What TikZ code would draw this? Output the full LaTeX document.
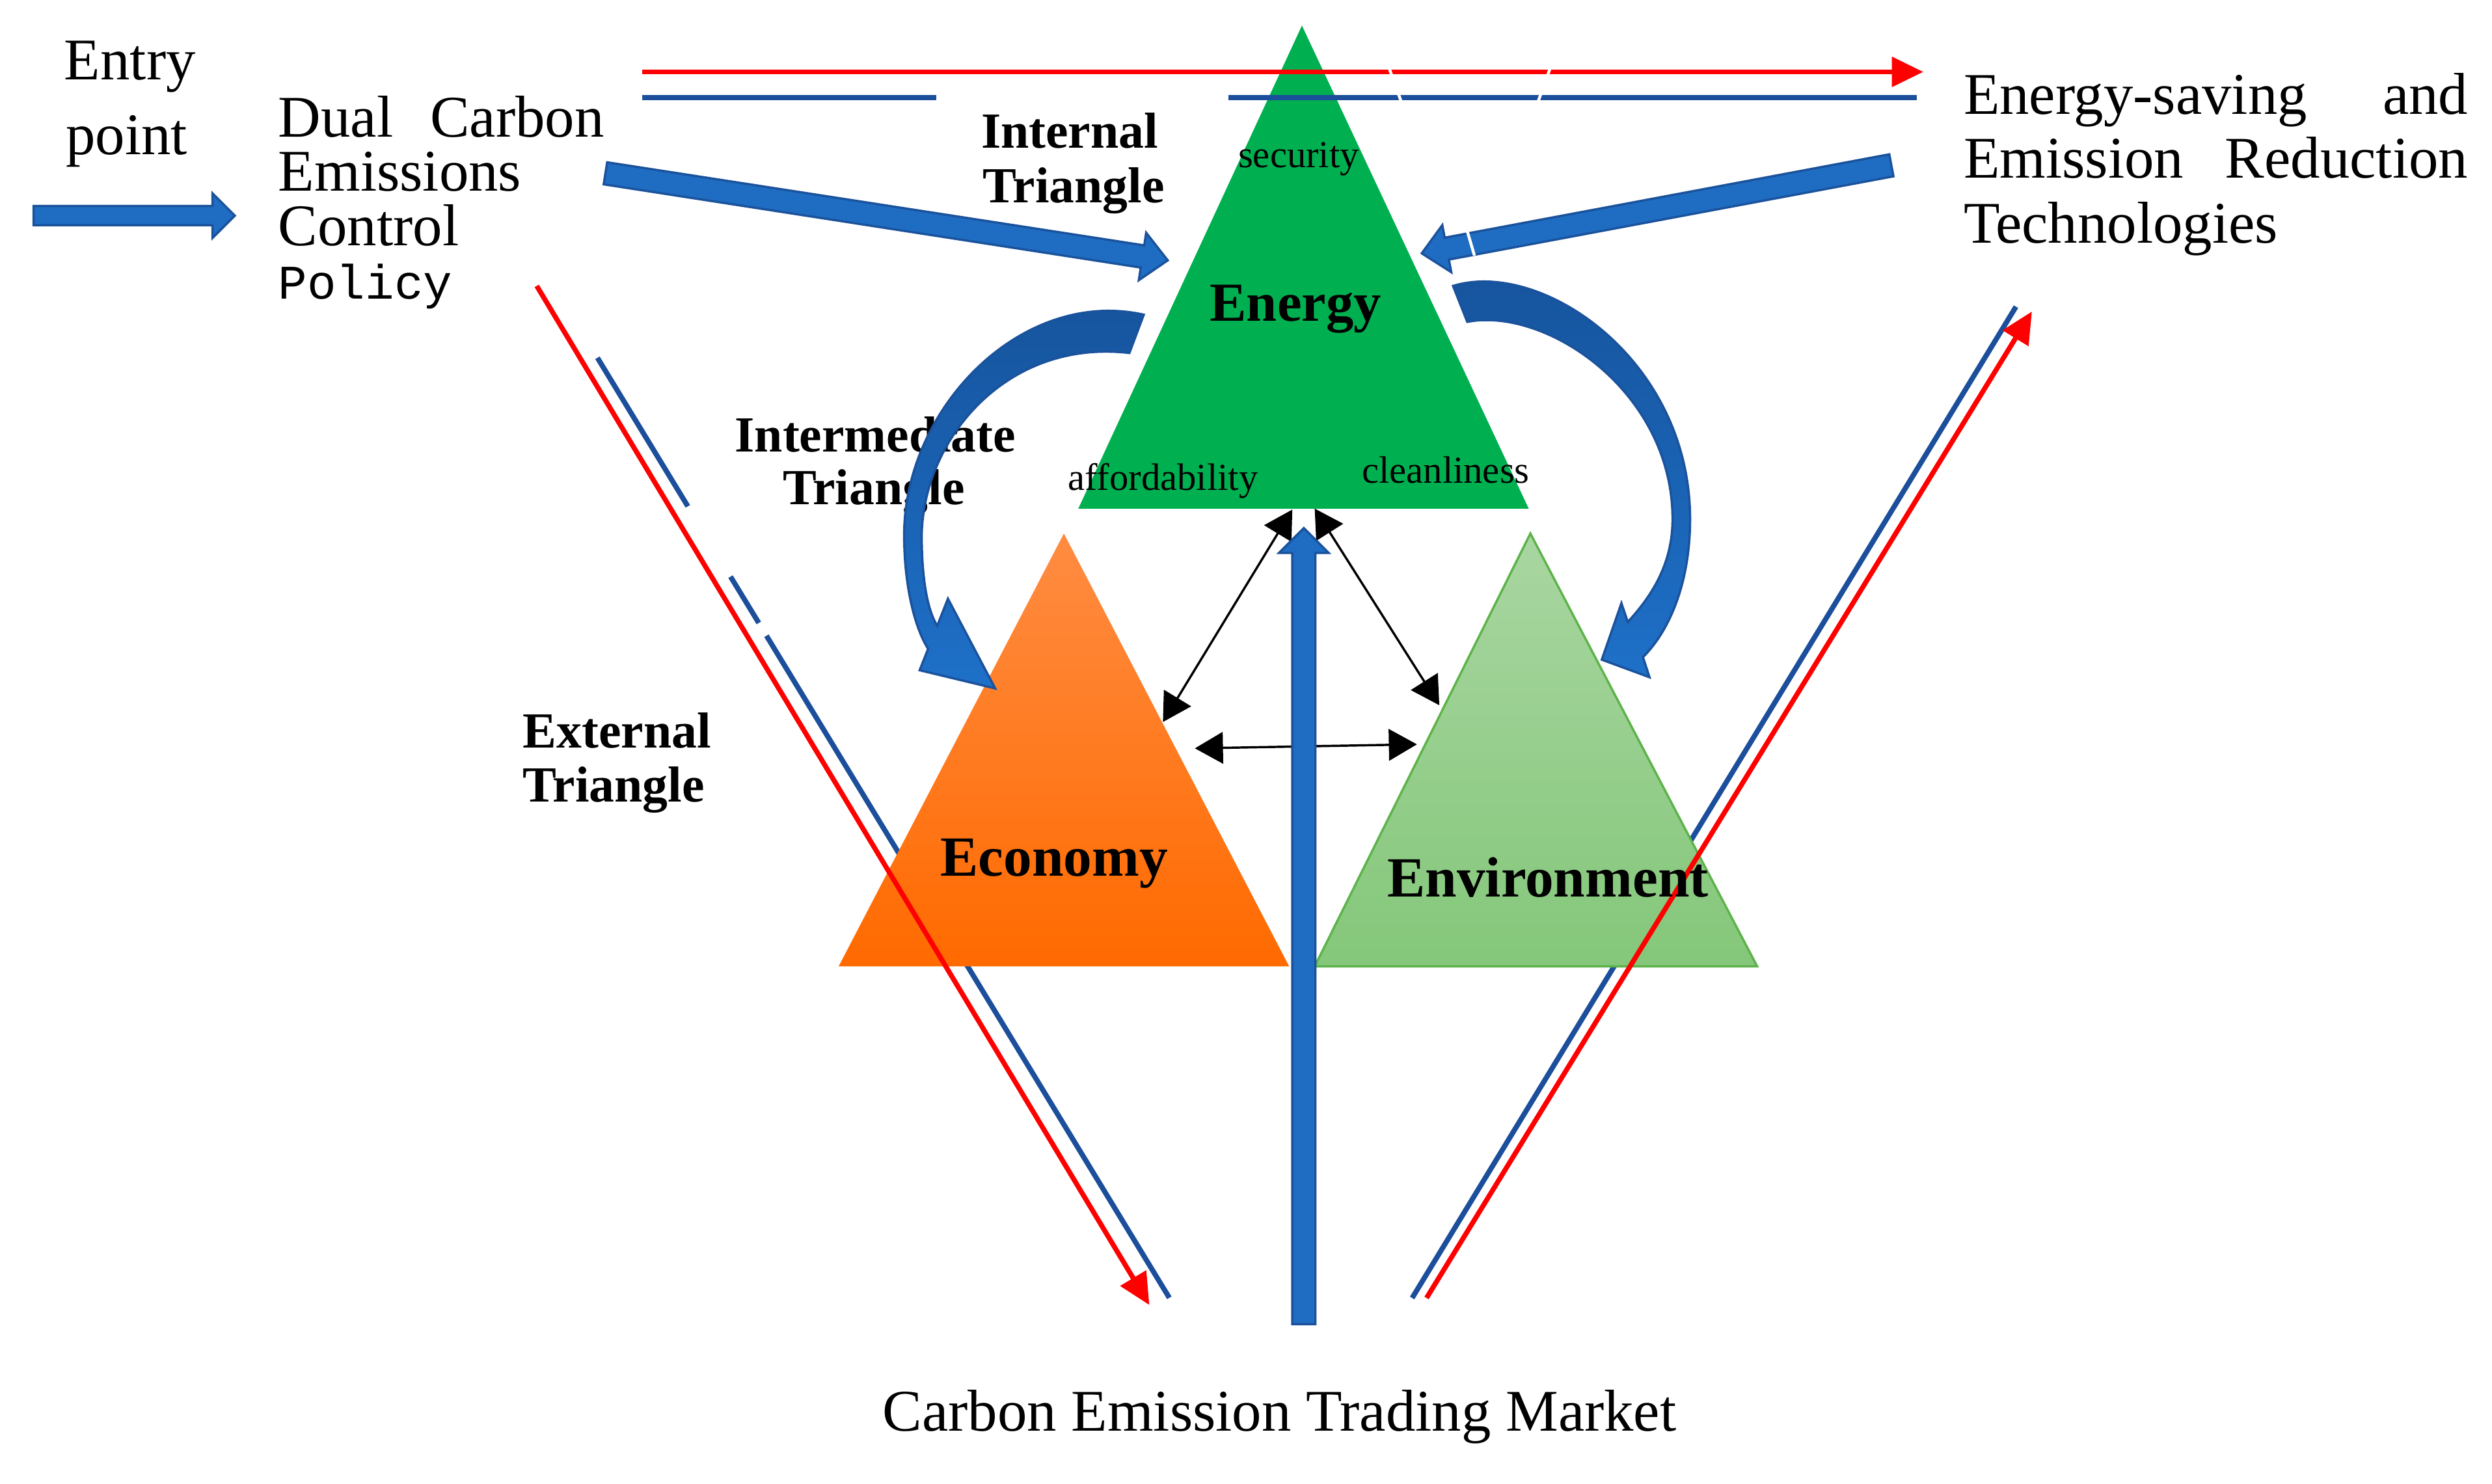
\documentclass[tikz,border=0pt]{standalone}
\usepackage{fontspec}
\setmainfont{Liberation Serif}
\newfontfamily\policyfont{Liberation Mono}
\usetikzlibrary{arrows.meta}
\definecolor{engreen}{HTML}{00B050}
\definecolor{ecotop}{HTML}{FF8C42}
\definecolor{ecobot}{HTML}{FF6A00}
\definecolor{envtop}{HTML}{A9D6A1}
\definecolor{envbot}{HTML}{84C77A}
\definecolor{envline}{HTML}{5DB34B}
\definecolor{lineblue}{HTML}{1C4F9B}
\definecolor{arrowblue}{HTML}{1F6DC2}
\definecolor{arrowedge}{HTML}{1A529C}
\definecolor{curvetop}{HTML}{16539C}
\definecolor{curvebot}{HTML}{1E70C8}
\begin{document}
\begin{tikzpicture}[x=0.025cm,y=-0.025cm,
  txt/.style={inner sep=0pt, anchor=base west, font=\fontsize{26.3}{30}\selectfont},
  bold/.style={inner sep=0pt, anchor=base west, font=\fontsize{22.5}{26}\selectfont\bfseries},
  big/.style={inner sep=0pt, anchor=base, font=\fontsize{25.3}{29}\selectfont\bfseries},
  small/.style={inner sep=0pt, anchor=base, font=\fontsize{17}{20}\selectfont},
  redline/.style={draw=red, line width=2.2pt, -{Triangle[length=14pt,width=13pt]}},
  blueline/.style={draw=lineblue, line width=2.3pt},
  biarrow/.style={draw=black, line width=1pt, {Triangle[length=12.5pt,width=14pt]}-{Triangle[length=12.5pt,width=14pt]}},
  blockarrow/.style={fill=arrowblue, draw=arrowedge, line width=1pt, line join=miter},
  curvearrow/.style={top color=curvetop, bottom color=curvebot, draw=arrowedge, line width=1pt},
  cut/.style={draw=white, line width=1.3pt}
]
\useasboundingbox (0,0) rectangle (1560,929);

% ---- coordinates
\coordinate (enA) at (815,16);
\coordinate (enL) at (675,318.5);
\coordinate (enR) at (957,318.5);
\coordinate (ecA) at (666,334);
\coordinate (ecL) at (525,605);
\coordinate (ecR) at (807,605);
\coordinate (evA) at (958,334);
\coordinate (evL) at (823,605);
\coordinate (evR) at (1100,605);

% ---- blue diagonal lines (behind triangles)
\coordinate (lb1) at (374,224);
\coordinate (lb2) at (430.6,317);
\coordinate (lb3) at (457.3,361);
\coordinate (lb4) at (475,390);
\coordinate (lb5) at (479.8,398);
\coordinate (lb6) at (732,812.5);
\draw[blueline] (lb1) -- (lb2);
\draw[blueline] (lb3) -- (lb4);
\draw[blueline] (lb5) -- (lb6);
\coordinate (rb1) at (884,812.6);
\coordinate (rb2) at (1262,192);
\draw[blueline] (rb1) -- (rb2);

% ---- triangles
\fill[engreen] (enA) -- (enL) -- (enR) -- cycle;
\shade[top color=ecotop, bottom color=ecobot] (ecA) -- (ecL) -- (ecR) -- cycle;
\shade[top color=envtop, bottom color=envbot] (evA) -- (evL) -- (evR) -- cycle;
\draw[envline, line width=1pt, line join=miter] (evA) -- (evL) -- (evR) -- cycle;

% ---- red diagonal lines
\coordinate (lr1) at (336,179);
\coordinate (lr2) at (719.5,817);
\draw[redline] (lr1) -- (lr2);
\coordinate (rr1) at (893,812.6);
\coordinate (rr2) at (1272,195);
\draw[redline] (rr1) -- (rr2);

% ---- top lines
\coordinate (tr1) at (402,45);
\coordinate (tr2) at (1204,45);
\draw[redline] (tr1) -- (tr2);
\coordinate (tb1) at (402,61);
\coordinate (tb2) at (586,61);
\coordinate (tb3) at (769,61);
\coordinate (tb4) at (1200,61);
\draw[blueline] (tb1) -- (tb2);
\draw[blueline] (tb3) -- (tb4);

% ---- black double arrows
\coordinate (bk1) at (809,319);
\coordinate (bk2) at (728,452);
\coordinate (bk3) at (823,318.4);
\coordinate (bk4) at (901,441.5);
\coordinate (bk5) at (748,468.5);
\coordinate (bk6) at (887,466);
\draw[biarrow] (bk1) -- (bk2);
\draw[biarrow] (bk3) -- (bk4);
\draw[biarrow] (bk5) -- (bk6);

% ---- block arrows
\path[blockarrow] (809,829) -- (809,346.2) -- (800.6,346.2) -- (816.2,330.6) -- (831.8,346.2) -- (823.4,346.2) -- (823.4,829) -- cycle;
\path[blockarrow] (21,129) -- (133,129) -- (133,121) -- (147,135) -- (133,149) -- (133,141) -- (21,141) -- cycle;
\path[blockarrow] (380.1,101.6) -- (716.3,153.6) -- (717.5,145.7) -- (731,163) -- (712.9,175.4) -- (714.1,167.5) -- (377.9,115.4) -- cycle;
\path[blockarrow] (1182.7,96.6) -- (904.4,148.8) -- (902.9,140.9) -- (890,158.6) -- (908.5,170.4) -- (907.0,162.5) -- (1185.3,110.4) -- cycle;

% ---- labels under curved arrows
\node[bold, anchor=base] (interm1) at (548,283) {Intermediate};
\node[bold, anchor=base] (interm2) at (547,316) {Triangle};

% ---- curved arrows
\path[curvearrow] (716,197) .. controls (640,180) and (566,255) .. (566,335)
  .. controls (566,365) and (572,392) .. (581,406.2) -- (575.7,419.6) -- (623,431) -- (593.4,374.8) -- (586.7,391.8)
  .. controls (580,381) and (577,360) .. (577,335)
  .. controls (578,275) and (630,212) .. (707,221) -- cycle;
\path[curvearrow] (909.6,179) .. controls (965,162) and (1058,225) .. (1058,325)
  .. controls (1058,365) and (1045,395) .. (1028.5,411.4) -- (1032.6,424) -- (1002.7,413) -- (1015,377.6) -- (1019,389.4)
  .. controls (1035,372) and (1047,352) .. (1047,325)
  .. controls (1047,245) and (968,192) .. (918.5,201.5) -- cycle;

% ---- white cuts
\draw[cut] (869,41) -- (878,66);
\draw[cut] (971,41) -- (962,66);
\draw[cut] (918,143) -- (923,160);

% ---- texts
\node[txt] (entry1) at (40,50) {Entry};
\node[txt] (entry2) at (41,96.6) {point};
\node[txt] (dual1) at (174,85.8) {\hbox to 145pt{Dual\hfill Carbon}};
\node[txt] (dual2) at (174,119.5) {Emissions};
\node[txt] (dual3) at (174,153.8) {Control};
\node[txt, font=\fontsize{21.5}{25}\policyfont] (dual4) at (174,187.2) {Policy};
\node[txt] (tech1) at (1229,71.4) {\hbox to 224.5pt{Energy-saving\hfill and}};
\node[txt] (tech2) at (1229,111.5) {\hbox to 224.5pt{Emission\hfill Reduction}};
\node[txt] (tech3) at (1229,152) {Technologies};
\node[bold] (int1) at (614,92.7) {Internal};
\node[bold] (int2) at (615,127) {Triangle};
\node[bold] (ext1) at (327,468) {External};
\node[bold] (ext2) at (327,502) {Triangle};
\node[big, font=\fontsize{24.5}{28}\selectfont\bfseries] (energy) at (811,200.9) {Energy};
\node[big] (economy) at (660,548.6) {Economy};
\node[big] (environment) at (969,561.5) {Environment};
\node[small] (security) at (813,104.9) {security};
\node[small] (afford) at (728,306.9) {affordability};
\node[small] (clean) at (905,302.5) {cleanliness};
\node[txt, anchor=base] (market) at (801,895.8) {Carbon Emission Trading Market};
\end{tikzpicture}
\end{document}
